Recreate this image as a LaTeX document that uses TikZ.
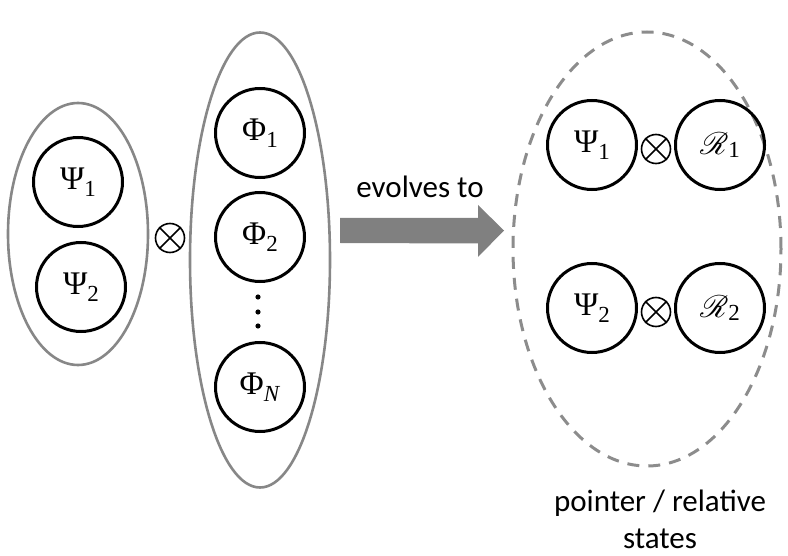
\documentclass[tikz,border=0pt]{standalone}
\usepackage{fontspec}
\usepackage{graphicx}
\usepackage{mathrsfs}
\setmainfont{Liberation Serif}
\newfontfamily\calfont{Carlito}
\newcommand\symlab[2]{{\fontsize{33}{33}\selectfont #1}\raisebox{-7pt}{\fontsize{23}{23}\selectfont #2}}
\newcommand\rlab[1]{{\fontsize{24.88}{25}\selectfont\scalebox{1.25}{$\mathscr{R}$}}\raisebox{-3pt}{\fontsize{23}{23}\selectfont #1}}
\usetikzlibrary{calc,shapes.geometric}
\tikzset{
  bub/.style={circle,draw=black,line width=3pt,minimum size=89pt,inner sep=0pt},
  grp/.style={ellipse,draw=black!47,line width=2.6pt,inner sep=0pt},
  dgrp/.style={draw=black!45,line width=3pt,dash pattern=on 12pt off 9pt},
  otim/.style={circle,draw=black,line width=1.6pt,minimum size=29pt,inner sep=0pt},
  lbl/.style={font=\calfont\fontsize{31}{37}\selectfont,align=center,inner sep=0pt}
}
\newcommand\otdraw[1]{\draw[line width=1.6pt] (#1.north west) -- (#1.south east) (#1.north east) -- (#1.south west);}
\begin{document}
\begin{tikzpicture}[x=1pt,y=1pt]
\useasboundingbox (0,0) rectangle (788,-556);
% left group
\node[grp,minimum width=140pt,minimum height=262pt] (gL) at (78,-234) {};
\node[bub] (a1) at (78,-182) {\symlab{Ψ}{1}};
\node[bub] (a2) at (81,-287) {\symlab{Ψ}{2}};
\node[otim] (o0) at (170,-238) {};
\otdraw{o0}
% middle group
\node[grp,minimum width=140pt,minimum height=455pt] (gM) at (260,-260) {};
\node[bub] (b1) at (260,-133) {\symlab{Φ}{1}};
\node[bub] (b2) at (260,-237) {\symlab{Φ}{2}};
\node[bub] (bN) at (260,-387) {\symlab{Φ}{\textit{N}}};
\foreach \yy in {-297,-312,-326}
  \fill (258,\yy) circle (2.6pt);
% arrow
\coordinate (s0) at (340,-230.5);
\fill[black!50] ($(s0)+(0,12.5)$) -- ++(138,0) -- ++(0,13) -- (504,-230.5) -- (478,-257) -- ++(0,13.5) -- ($(s0)+(0,-12.5)$) -- cycle;
\node[lbl] (ev) at (420,-187) {evolves to};
% right group
\draw[dgrp] (647,-249) ellipse [x radius=134pt,y radius=217pt];
\node[bub] (c1) at (592,-145) {\symlab{Ψ}{1}};
\node[otim] (o1) at (656,-149) {};
\otdraw{o1}
\node[bub] (r1) at (720,-145) {\rlab{1}};
\node[bub] (c2) at (592,-308) {\symlab{Ψ}{2}};
\node[otim] (o2) at (656,-312) {};
\otdraw{o2}
\node[bub] (r2) at (720,-308) {\rlab{2}};
\node[lbl] (pt) at (660,-519) {pointer / relative\\states};
\end{tikzpicture}
\end{document}
